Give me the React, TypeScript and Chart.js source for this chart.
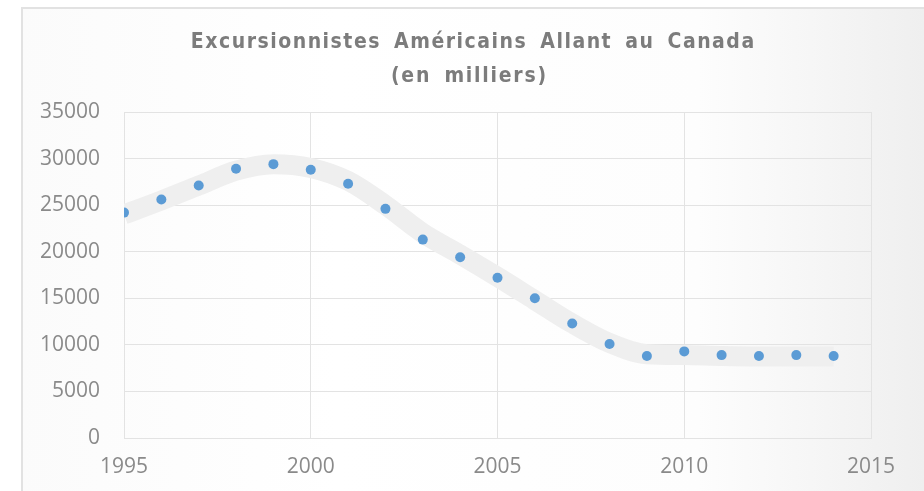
import React, { useEffect, useRef } from "react";
import { Chart, registerables } from "chart.js";

Chart.register(...registerables);

const years = [1995, 1996, 1997, 1998, 1999, 2000, 2001, 2002, 2003, 2004, 2005, 2006, 2007, 2008, 2009, 2010, 2011, 2012, 2013, 2014];
const visitors = [24200, 25600, 27100, 28900, 29400, 28800, 27300, 24600, 21300, 19400, 17200, 15000, 12300, 10100, 8800, 9300, 8900, 8800, 8900, 8800];
const trend = [24000, 25500, 27100, 28700, 29400, 29000, 27600, 25000, 22000, 19700, 17300, 14800, 12300, 10200, 9000, 8900, 8800, 8750, 8750, 8750];
const xTicks = [1995, 2000, 2005, 2010, 2015];
const yTicks = [0, 5000, 10000, 15000, 20000, 25000, 30000, 35000];
const titleLines = ["Excursionnistes Américains Allant au Canada", "(en milliers)"];

const bgPlugin = {
  id: "cardBg",
  beforeDraw(chart: any) {
    const { ctx, width, height } = chart;
    ctx.save();
    ctx.fillStyle = "#ffffff";
    ctx.fillRect(0, 0, width, height);
    const g = ctx.createLinearGradient(21, 0, width, 0);
    g.addColorStop(0, "#fbfbfb");
    g.addColorStop(0.35, "#ffffff");
    g.addColorStop(0.75, "#fdfdfd");
    g.addColorStop(1, "#efefef");
    ctx.fillStyle = g;
    ctx.fillRect(21, 7, width - 21, height - 7);
    ctx.fillStyle = "#e2e2e2";
    ctx.fillRect(21, 7, width - 21, 2);
    ctx.fillRect(21, 7, 2, height - 7);
    ctx.restore();
  },
};

const titlePlugin = {
  id: "spacedTitle",
  afterDraw(chart: any) {
    const { ctx } = chart;
    ctx.save();
    ctx.fillStyle = "#7c7c7c";
    ctx.font = "bold 21px 'DejaVu Sans Condensed', 'DejaVu Sans'";
    ctx.textAlign = "center";
    ctx.textBaseline = "alphabetic";
    const target = [565, 157];
    const cx = [472.5, 468.5];
    const ys = [48, 82];
    titleLines.forEach((t, i) => {
      const spaces = t.split(" ").length - 1;
      (ctx as any).letterSpacing = "0px";
      (ctx as any).wordSpacing = "5px";
      const w = ctx.measureText(t).width;
      const ls = Math.max(0, (target[i] - w) / t.length);
      (ctx as any).letterSpacing = ls.toFixed(2) + "px";
      ctx.fillText(t, cx[i] + ls / 2, ys[i]);
    });
    ctx.restore();
  },
};

export default function App() {
  const ref = useRef<HTMLCanvasElement>(null);
  useEffect(() => {
    if (!ref.current) return;
    const chart = new Chart(ref.current, {
      type: "line",
      data: {
        datasets: [
          {
            label: "Points",
            data: years.map((y, i) => ({ x: y, y: visitors[i] })),
            showLine: false,
            pointRadius: 5,
            pointBackgroundColor: "#5b9bd5",
            pointBorderWidth: 0,
            borderColor: "#5b9bd5",
            order: 0,
          },
          {
            label: "Tendance",
            data: years.map((y, i) => ({ x: y, y: trend[i] })),
            borderColor: "#efefef",
            borderWidth: 20,
            tension: 0.4,
            cubicInterpolationMode: "monotone",
            pointRadius: 0,
            borderCapStyle: "butt",
            fill: false,
            order: 1,
          },
        ],
      },
      options: {
        animation: false,
        responsive: false,
        layout: { padding: { left: 0, right: 53, top: 112, bottom: 0 } },
        plugins: { legend: { display: false }, title: { display: false }, tooltip: { enabled: false } },
        scales: {
          x: {
            type: "linear",
            min: 1995,
            max: 2015,
            afterBuildTicks: (s: any) => { s.ticks = xTicks.map((v) => ({ value: v })); },
            afterFit: (s: any) => { s.height = 53; },
            ticks: { color: "#8a8a8a", font: { family: "'Open Sans'", size: 21 }, padding: 16, maxRotation: 0, callback: (v: any) => String(v) },
            grid: { color: "#e3e3e3", drawTicks: false },
            border: { color: "#e3e3e3" },
          },
          y: {
            min: 0,
            max: 35000,
            afterBuildTicks: (s: any) => { s.ticks = yTicks.map((v) => ({ value: v })); },
            afterFit: (s: any) => { s.width = 124; },
            ticks: { color: "#8a8a8a", font: { family: "'Open Sans'", size: 21 }, padding: 24, callback: (v: any) => String(v) },
            grid: { color: "#e3e3e3", drawTicks: false },
            border: { color: "#e3e3e3" },
          },
        },
      },
      plugins: [bgPlugin, titlePlugin],
    } as any);
    return () => chart.destroy();
  }, []);
  return (
    <div style={{ position: "fixed", left: 0, top: 0, width: 924, height: 491 }}>
      <canvas ref={ref} width={924} height={491} style={{ display: "block" }} />
    </div>
  );
}
